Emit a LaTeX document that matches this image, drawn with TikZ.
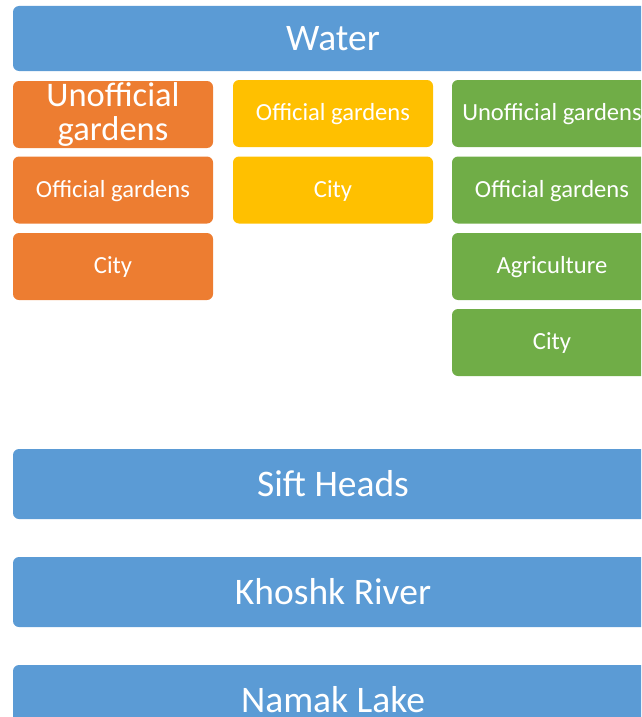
\documentclass[tikz,border=0pt]{standalone}
\usepackage{fontspec}
\setmainfont{Carlito}
\definecolor{cblue}{HTML}{5B9BD5}
\definecolor{corange}{HTML}{ED7D31}
\definecolor{cyellow}{HTML}{FFC000}
\definecolor{cgreen}{HTML}{70AD47}
\begin{document}
\begin{tikzpicture}[x=1pt,y=-1pt,
  box/.style={rounded corners=6pt, inner sep=0pt, text=white, align=center, anchor=center},
  bar/.style={box, fill=cblue, minimum width=640pt, font=\fontsize{37.5}{40}\selectfont},
  small/.style={box, minimum width=200pt, minimum height=67pt, text height=19.5pt, text depth=5pt, font=\fontsize{24.6}{28}\selectfont},
  ob/.style={small, fill=corange},
  yb/.style={small, fill=cyellow},
  gb/.style={small, fill=cgreen}]
\useasboundingbox (0,0) rectangle (641,717);
\clip (0,0) rectangle (641,717);
\node[bar, minimum height=65pt] (water) at (333,38.5) {Water};
\node[ob, text height=, text depth=, font=\fontsize{34.5}{34}\selectfont] (o1) at (113,114.5) {Unofficial\\gardens};
\node[ob] (o2) at (113,190) {Official gardens};
\node[ob] (o3) at (113,266.5) {City};
\node[yb] (y1) at (333,113.5) {Official gardens};
\node[yb] (y2) at (333,190) {City};
\node[gb] (g1) at (552,113.5) {Unofficial gardens};
\node[gb] (g2) at (552,190) {Official gardens};
\node[gb] (g3) at (552,266.5) {Agriculture};
\node[gb] (g4) at (552,342.5) {City};
\node[bar, minimum height=70pt] (sift) at (333,484) {Sift Heads};
\node[bar, minimum height=70pt] (khoshk) at (333,592) {Khoshk River};
\node[bar, minimum height=70pt] (namak) at (333,700) {Namak Lake};
\end{tikzpicture}
\end{document}
